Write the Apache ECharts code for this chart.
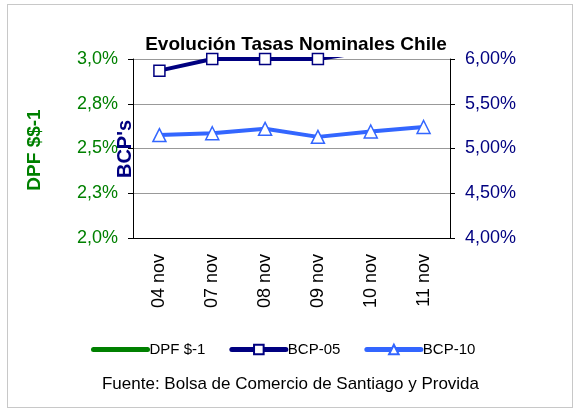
<!DOCTYPE html>
<html><head><meta charset="utf-8">
<script src="https://cdn.jsdelivr.net/npm/echarts@6/dist/echarts.min.js"></script>
<style>html,body{margin:0;padding:0;background:#fff}#c{width:581px;height:414px}
#f{position:absolute;left:7px;top:4px;width:564px;height:402px;border:1px solid #c8c8c8;pointer-events:none}</style>
</head><body><div id="c"></div><div id="f"></div>
<script>
const categories = ['04 nov','07 nov','08 nov','09 nov','10 nov','11 nov'];
const dpf = [3.3, 3.3, 3.2, 3.1, 3.2, 3.3];
const bcp05 = [5.87, 6.00, 6.00, 6.00, 6.09, 6.20];
const bcp10 = [5.15, 5.17, 5.22, 5.13, 5.19, 5.24];
const leftTicks = {min:2.0, max:3.0, interval:0.25};
const rightTicks = {min:4.0, max:6.0, interval:0.5};

const chart = echarts.init(document.getElementById('c'));
const font = 'Liberation Sans, Arial, sans-serif';
chart.setOption({
  animation:false,
  title:{text:'Evolución Tasas Nominales Chile', left:291, textAlign:'center', top:30,
    textStyle:{fontFamily:font, fontSize:19, fontWeight:'bold', color:'#000'}},
  graphic:[
    {type:'text', left:'center', top:376, style:{text:'Fuente: Bolsa de Comercio de Santiago y Provida', font:'17px '+font, fill:'#000'}},
    {type:'text', x:35, y:150, rotation:Math.PI/2, style:{text:'DPF $$-1', font:'bold 19px '+font, fill:'#008000', textAlign:'center', textVerticalAlign:'middle'}},
    {type:'text', x:125, y:149, rotation:Math.PI/2, style:{text:"BCP's", font:'bold 20px '+font, fill:'#000080', textAlign:'center', textVerticalAlign:'middle'}}
  ],
  legend:{top:337, left:86, itemWidth:54, itemHeight:12, itemGap:24,
    textStyle:{fontFamily:font, fontSize:15, color:'#000', padding:[0,0,0,-3]},
    data:[
      {name:'DPF $-1', itemStyle:{color:'rgba(0,0,0,0)', borderColor:'rgba(0,0,0,0)', borderWidth:0}, lineStyle:{width:5, cap:'round'}},
      {name:'BCP-05', lineStyle:{width:5, cap:'round'}},
      {name:'BCP-10', lineStyle:{width:5, cap:'round'}}]},
  grid:{left:133, right:131, top:59, bottom:176},
  xAxis:{type:'category', data:categories, boundaryGap:true,
    axisLine:{lineStyle:{color:'#000'}}, axisTick:{length:5, lineStyle:{color:'#000'}},
    axisLabel:{rotate:90, color:'#000', fontFamily:font, fontSize:18, margin:16}},
  yAxis:[
    {type:'value', min:leftTicks.min, max:leftTicks.max, interval:leftTicks.interval, position:'left',
     axisLine:{show:true, lineStyle:{color:'#000'}}, axisTick:{show:true, length:5, lineStyle:{color:'#000'}},
     splitLine:{show:true, lineStyle:{color:'#999'}},
     axisLabel:{color:'#008000', fontFamily:font, fontSize:18, margin:15,
       formatter:v=>v.toFixed(1).replace('.',',')+'%'}},
    {type:'value', min:rightTicks.min, max:rightTicks.max, interval:rightTicks.interval, position:'right',
     axisLine:{show:true, lineStyle:{color:'#000'}}, axisTick:{show:true, length:5, lineStyle:{color:'#000'}},
     splitLine:{show:false},
     axisLabel:{color:'#000080', fontFamily:font, fontSize:18, margin:15,
       formatter:v=>v.toFixed(2).replace('.',',')+'%'}}
  ],
  series:[
    {name:'DPF $-1', type:'line', yAxisIndex:0, data:dpf, showSymbol:false, symbol:'circle',
     lineStyle:{color:'#008000', width:4}, itemStyle:{color:'#008000'}, clip:true},
    {name:'BCP-05', type:'line', yAxisIndex:1, data:bcp05, symbol:'rect', symbolSize:11,
     lineStyle:{color:'#000080', width:4}, itemStyle:{color:'#fff', borderColor:'#000080', borderWidth:1.5}, clip:true},
    {name:'BCP-10', type:'line', yAxisIndex:1, data:bcp10, symbol:'triangle', symbolSize:13,
     lineStyle:{color:'#3366ff', width:4}, itemStyle:{color:'#fff', borderColor:'#3366ff', borderWidth:1.5}, clip:true}
  ]
});
</script></body></html>
